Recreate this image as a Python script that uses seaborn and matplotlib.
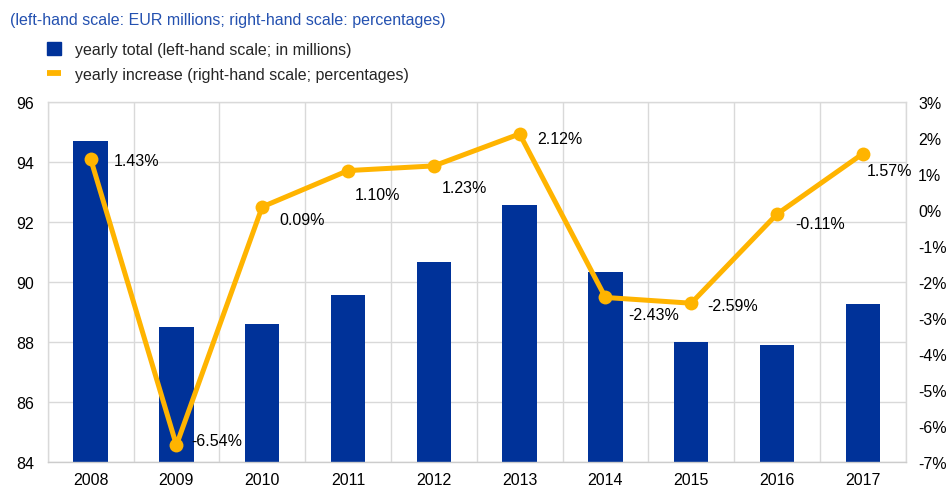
import numpy as np
import pandas as pd
import matplotlib
matplotlib.use("Agg")
import matplotlib.pyplot as plt
from matplotlib.patches import Patch
from matplotlib.lines import Line2D
import seaborn as sns

# ---- data ----
years = ["2008", "2009", "2010", "2011", "2012", "2013", "2014", "2015", "2016", "2017"]
yearly_total = [94.70, 88.51, 88.59, 89.57, 90.67, 92.57, 90.33, 88.00, 87.89, 89.28]
yearly_increase = [1.43, -6.54, 0.09, 1.10, 1.23, 2.12, -2.43, -2.59, -0.11, 1.57]
increase_labels = ["1.43%", "-6.54%", "0.09%", "1.10%", "1.23%", "2.12%", "-2.43%", "-2.59%", "-0.11%", "1.57%"]
left_ticks = [84, 86, 88, 90, 92, 94, 96]
right_ticks = [-7, -6, -5, -4, -3, -2, -1, 0, 1, 2, 3]

title_text = "(left-hand scale: EUR millions; right-hand scale: percentages)"
legend_bar = "yearly total (left-hand scale; in millions)"
legend_line = "yearly increase (right-hand scale; percentages)"

# ---- style ----
BLUE = "#003299"
YELLOW = "#FFB400"
GRID = "#d9d9d9"
TITLE_C = "#2451b0"
FS = 11.5

sns.set_theme(style="white")
plt.rcParams["font.family"] = ["Liberation Sans", "DejaVu Sans"]

df = pd.DataFrame({"year": years, "total": yearly_total, "inc": yearly_increase})

fig = plt.figure(figsize=(9.49, 5.02), dpi=100)
W, H = 949, 502
L, R, T, B = 47.7, 905.7, 103.3, 462.7
ax = fig.add_axes([L / W, 1 - B / H, (R - L) / W, (B - T) / H])

sns.barplot(data=df, x="year", y="total", color=BLUE, width=0.4, ax=ax,
            saturation=1, edgecolor=BLUE, linewidth=0, zorder=2)
ax.set_ylim(84, 96)
ax.set_xlim(-0.5, len(years) - 0.5)
ax.set_yticks(left_ticks)
ax.set_yticklabels([str(t) for t in left_ticks])
ax.set_xlabel("")
ax.set_ylabel("")
ax.set_xticks(np.arange(-0.5, len(years), 1.0), minor=True)
ax.grid(True, axis="y", which="major", color=GRID, linewidth=1, zorder=0)
ax.grid(True, axis="x", which="minor", color=GRID, linewidth=1, zorder=0)
ax.grid(False, axis="x", which="major")
ax.set_axisbelow(True)
ax.tick_params(axis="both", which="both", length=0, labelsize=FS, colors="#000000")
ax.tick_params(axis="y", pad=10)
ax.tick_params(axis="x", pad=7.5)
for s in ax.spines.values():
    s.set_color(GRID)
    s.set_linewidth(1)
ax.spines["bottom"].set_color("#cccccc")

ax2 = ax.twinx()
xpos = np.arange(len(years))
sns.lineplot(x=xpos, y=yearly_increase, ax=ax2, color=YELLOW, linewidth=3.6,
             marker="o", markersize=10, markeredgewidth=0, zorder=3)
ax2.set_ylim(-7, 3)
ax2.set_yticks(right_ticks)
ax2.set_yticklabels([f"{t}%" for t in right_ticks])
ax2.tick_params(axis="y", length=0, labelsize=FS, pad=9, colors="#000000")
ax2.set_ylabel("")
ax2.grid(False)
for s in ax2.spines.values():
    s.set_visible(False)

# label offsets in pixels (dx right, dy down)
offsets = [(23, 2), (15, -5), (17, 13), (7, 24), (8, 22), (18, 5), (23, 17), (16, 2), (18, 9), (4, 17)]
for xi, yi, lab, (dx, dy) in zip(xpos, yearly_increase, increase_labels, offsets):
    ax2.annotate(lab, (xi, yi), xytext=(dx, -dy), textcoords="offset pixels",
                 ha="left", va="center", fontsize=FS, color="#000000", zorder=4)

fig.text(10 / W, 1 - 20 / H, title_text, color=TITLE_C, fontsize=FS,
         ha="left", va="center")

handles = [Patch(facecolor=BLUE, edgecolor=BLUE),
           Line2D([0], [0], color=YELLOW, linewidth=4.2, solid_capstyle="butt")]
fig.legend(handles, [legend_bar, legend_line], loc="upper left",
           bbox_to_anchor=(46.7 / W, 1 - 42.5 / H), frameon=False, fontsize=FS,
           handlelength=0.9, handleheight=0.9, handletextpad=0.85,
           labelspacing=0.62, borderpad=0, borderaxespad=0)

fig.savefig("out.png", dpi=100)
